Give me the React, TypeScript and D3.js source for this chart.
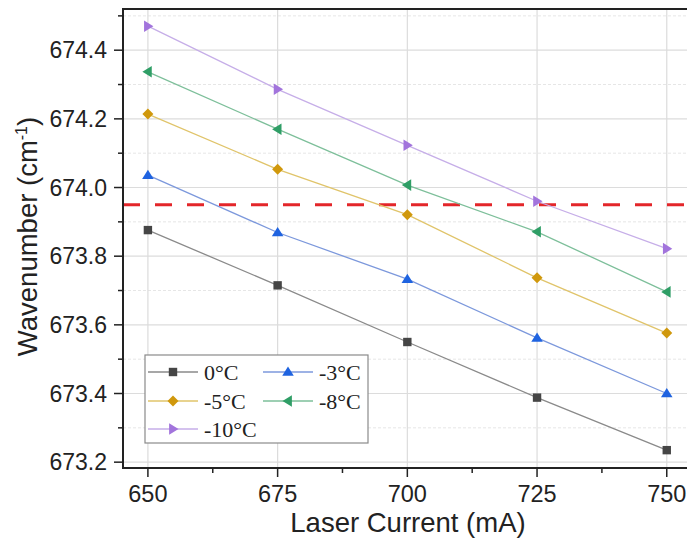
import React from "react";
import * as d3 from "d3";

const currents = [650, 675, 700, 725, 750];
const seriesNames = ["0°C", "-3°C", "-5°C", "-8°C", "-10°C"];
const s0 = [673.876, 673.715, 673.55, 673.388, 673.235];
const s3 = [674.036, 673.869, 673.733, 673.562, 673.4];
const s5 = [674.214, 674.053, 673.921, 673.737, 673.576];
const s8 = [674.337, 674.17, 674.007, 673.871, 673.696];
const s10 = [674.47, 674.286, 674.123, 673.96, 673.822];
const thresholdValue = 673.95;
const xTicks = [650, 675, 700, 725, 750];
const xMinorTicks = [662.5, 687.5, 712.5, 737.5];
const yTicks = [673.2, 673.4, 673.6, 673.8, 674.0, 674.2, 674.4];
const yMinorTicks = [673.3, 673.5, 673.7, 673.9, 674.1, 674.3, 674.5];

const seriesValues = [s0, s3, s5, s8, s10];
const markerColors = ["#454545", "#1f63e0", "#d0980c", "#2f9e66", "#a274dc"];
const lineColors = ["#8a8a8a", "#7c98dc", "#e0c46a", "#7dbf9a", "#c6aee8"];
const shapes = ["square", "triUp", "diamond", "triLeft", "triRight"];

function markerPath(shape: string, cx: number, cy: number): string {
  const r = 5.5;
  switch (shape) {
    case "square": {
      const h = 4.2;
      return `M${cx - h},${cy - h}L${cx + h},${cy - h}L${cx + h},${cy + h}L${cx - h},${cy + h}Z`;
    }
    case "triUp":
      return `M${cx},${cy - r}L${cx + r * 1.05},${cy + r * 0.7}L${cx - r * 1.05},${cy + r * 0.7}Z`;
    case "diamond":
      return `M${cx},${cy - r}L${cx + r},${cy}L${cx},${cy + r}L${cx - r},${cy}Z`;
    case "triLeft":
      return `M${cx - r},${cy}L${cx + r * 0.7},${cy - r * 1.05}L${cx + r * 0.7},${cy + r * 1.05}Z`;
    case "triRight":
      return `M${cx + r},${cy}L${cx - r * 0.7},${cy - r * 1.05}L${cx - r * 0.7},${cy + r * 1.05}Z`;
  }
  return "";
}

export default function App() {
  const W = 687;
  const H = 545;
  const left = 123;
  const top = 9;
  const bottom = 468;
  const x = d3.scaleLinear().domain([645.2, 753.9]).range([left, 687]);
  const y = d3.scaleLinear().domain([673.183, 674.52]).range([bottom, top]);
  const line = d3
    .line<number>()
    .x((_, i) => x(currents[i]))
    .y((d) => y(d));

  const sans = "Arial, 'Liberation Sans', sans-serif";
  const serif = "'Times New Roman', 'Liberation Serif', serif";

  const legendItems = [
    { i: 0, lx: 148, ly: 372 },
    { i: 1, lx: 263, ly: 372 },
    { i: 2, lx: 148, ly: 401 },
    { i: 3, lx: 263, ly: 401 },
    { i: 4, lx: 148, ly: 429 },
  ];

  return (
    <svg
      width={W}
      height={H}
      style={{ position: "absolute", left: 0, top: 0, background: "#fff" }}
    >
      <defs>
        <clipPath id="plotclip">
          <rect x={left} y={top} width={W - left} height={bottom - top} />
        </clipPath>
      </defs>
      {yMinorTicks.map((t) => (
        <line
          key={"ymg" + t}
          x1={left}
          x2={W}
          y1={y(t)}
          y2={y(t)}
          stroke="#e6e6e6"
          strokeWidth={1}
          strokeDasharray="3,2"
        />
      ))}
      {yTicks.map((t) => (
        <line key={"yg" + t} x1={left} x2={W} y1={y(t)} y2={y(t)} stroke="#dcdcdc" strokeWidth={1.2} />
      ))}
      {xTicks.map((t) => (
        <line key={"xg" + t} x1={x(t)} x2={x(t)} y1={top} y2={bottom} stroke="#dcdcdc" strokeWidth={1.2} />
      ))}

      <g clipPath="url(#plotclip)">
        <line
          x1={left}
          x2={W}
          y1={y(thresholdValue)}
          y2={y(thresholdValue)}
          stroke="#e3262a"
          strokeWidth={3}
          strokeDasharray="17,15"
        />
        {seriesValues.map((vals, si) => (
          <g key={"s" + si}>
            <path d={line(vals) || ""} fill="none" stroke={lineColors[si]} strokeWidth={1.3} />
            {vals.map((v, i) => (
              <path key={i} d={markerPath(shapes[si], x(currents[i]), y(v))} fill={markerColors[si]} />
            ))}
          </g>
        ))}
      </g>

      <line x1={left} x2={W} y1={top} y2={top} stroke="#222" strokeWidth={2} />
      <line x1={left} x2={left} y1={top - 1} y2={bottom + 1} stroke="#222" strokeWidth={2} />
      <line x1={left - 1} x2={W} y1={bottom} y2={bottom} stroke="#222" strokeWidth={2} />

      {yTicks.map((t) => (
        <g key={"yt" + t}>
          <line x1={left - 9} x2={left} y1={y(t)} y2={y(t)} stroke="#222" strokeWidth={1.5} />
          <text
            x={107}
            y={y(t)}
            dy="0.36em"
            textAnchor="end"
            fontFamily={sans}
            fontSize={23}
            fill="#222"
          >
            {t.toFixed(1)}
          </text>
        </g>
      ))}
      {yMinorTicks.map((t) => (
        <line key={"ymt" + t} x1={left - 5} x2={left} y1={y(t)} y2={y(t)} stroke="#222" strokeWidth={1.5} />
      ))}

      {xTicks.map((t) => (
        <g key={"xt" + t}>
          <line x1={x(t)} x2={x(t)} y1={bottom} y2={bottom + 9} stroke="#222" strokeWidth={1.5} />
          <text x={x(t)} y={502} textAnchor="middle" fontFamily={sans} fontSize={23.5} fill="#222">
            {t}
          </text>
        </g>
      ))}
      {xMinorTicks.map((t) => (
        <line key={"xmt" + t} x1={x(t)} x2={x(t)} y1={bottom} y2={bottom + 5} stroke="#222" strokeWidth={1.5} />
      ))}

      <text x={408} y={532} textAnchor="middle" fontFamily={sans} fontSize={27.5} fill="#222">
        Laser Current (mA)
      </text>
      <text
        transform={`translate(37, ${(top + bottom) / 2 - 2}) rotate(-90)`}
        textAnchor="middle"
        fontFamily={sans}
        fontSize={27.5}
        fill="#222"
      >
        Wavenumber (cm
        <tspan dy={-10} fontSize={16}>
          -1
        </tspan>
        <tspan dy={10}>)</tspan>
      </text>

      <rect x={145} y={355} width={223} height={88} fill="#fff" stroke="#8a8a8a" strokeWidth={1.2} />
      {legendItems.map(({ i, lx, ly }) => (
        <g key={"lg" + i}>
          <line x1={lx} x2={lx + 50} y1={ly} y2={ly} stroke={lineColors[i]} strokeWidth={1.3} />
          <path d={markerPath(shapes[i], lx + 25, ly)} fill={markerColors[i]} />
          <text x={lx + 56} y={ly} dy="0.35em" fontFamily={serif} fontSize={22} fill="#222">
            {seriesNames[i]}
          </text>
        </g>
      ))}
    </svg>
  );
}
